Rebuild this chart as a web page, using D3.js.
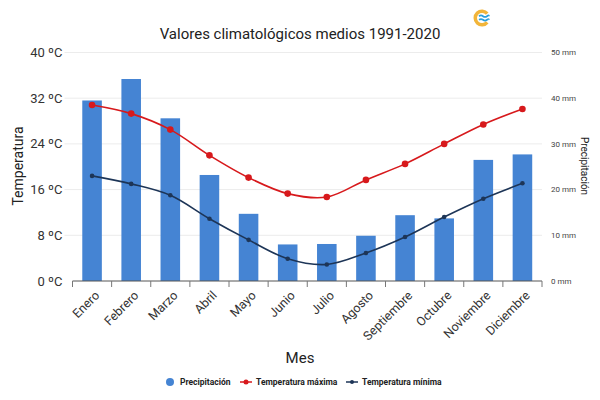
<!DOCTYPE html>
<html>
<head>
<meta charset="utf-8">
<script src="https://cdn.jsdelivr.net/npm/d3@7"></script>
<style>
  body { margin: 0; background: #fff; }
  text { font-family: Roboto, "Noto Sans", sans-serif; }
</style>
</head>
<body>
<div id="chart"></div>
<script>
const WIDTH  = 600
const HEIGHT = 400

const months      = ['Enero', 'Febrero', 'Marzo', 'Abril', 'Mayo', 'Junio', 'Julio', 'Agosto', 'Septiembre', 'Octubre', 'Noviembre', 'Diciembre']
const precip      = [39.5, 44.2, 35.6, 23.2, 14.7, 8.0, 8.1, 9.9, 14.4, 13.7, 26.5, 27.7]
const tempMax     = [30.8, 29.3, 26.5, 22.0, 18.1, 15.3, 14.7, 17.7, 20.5, 24.0, 27.4, 30.1]
const tempMin     = [18.4, 17.0, 15.0, 10.9, 7.2, 3.9, 2.9, 4.9, 7.7, 11.2, 14.4, 17.1]
const tempTicks   = [0, 8, 16, 24, 32, 40]
const precipTicks = [0, 10, 20, 30, 40, 50]

const BAR_COLOR = '#4584d3'
const MAX_COLOR = '#d7191c'
const MIN_COLOR = '#1d3557'

const margin = { top: 52.5, right: 58, bottom: 119, left: 72.5 }
const innerW = WIDTH - margin.left - margin.right
const innerH = HEIGHT - margin.top - margin.bottom

const svg = d3.select('#chart').append('svg')
    .attr('width', WIDTH)
    .attr('height', HEIGHT)

const g = svg.append('g')
    .attr('transform', `translate(${margin.left},${margin.top})`)

const x = d3.scaleBand().domain(months).range([0, innerW]).paddingInner(0.5).paddingOuter(0.25)
const xBand = d3.scaleBand().domain(months).range([0, innerW])
const yT = d3.scaleLinear().domain([0, 40]).range([innerH, 0])
const yP = d3.scaleLinear().domain([0, 50]).range([innerH, 0])

// grid
g.append('g').selectAll('line')
    .data(tempTicks.slice(1))
    .join('line')
    .attr('x1', -8).attr('x2', innerW)
    .attr('y1', d => yT(d)).attr('y2', d => yT(d))
    .attr('stroke', '#ececec')

// left axis labels
g.append('g').selectAll('text')
    .data(tempTicks)
    .join('text')
    .attr('x', -10)
    .attr('y', d => yT(d))
    .attr('dy', '0.35em')
    .attr('text-anchor', 'end')
    .attr('font-size', 13)
    .attr('fill', '#333')
    .text(d => `${d} ºC`)

// right axis labels
g.append('g').selectAll('text')
    .data(precipTicks)
    .join('text')
    .attr('x', innerW + 9)
    .attr('y', d => yP(d))
    .attr('dy', '0.35em')
    .attr('font-size', 8)
    .attr('fill', '#444')
    .text(d => `${d} mm`)

// bars
g.append('g').selectAll('rect')
    .data(months)
    .join('rect')
    .attr('x', d => x(d))
    .attr('width', x.bandwidth())
    .attr('y', (d, i) => yP(precip[i]))
    .attr('height', (d, i) => innerH - yP(precip[i]))
    .attr('fill', BAR_COLOR)

// x axis
const xAxis = g.append('g')
    .attr('transform', `translate(0,${innerH})`)
xAxis.append('line')
    .attr('x1', 0).attr('x2', innerW)
    .attr('stroke', '#555')
xAxis.selectAll('.tick')
    .data(d3.range(months.length + 1))
    .join('line')
    .attr('class', 'tick')
    .attr('x1', i => i * xBand.step()).attr('x2', i => i * xBand.step())
    .attr('y1', 0).attr('y2', 6)
    .attr('stroke', '#777')
xAxis.selectAll('text')
    .data(months)
    .join('text')
    .attr('transform', d => `translate(${xBand(d) + xBand.bandwidth() / 2 + 2},9) rotate(-45)`)
    .attr('text-anchor', 'end')
    .attr('dy', '0.7em')
    .attr('font-size', 12.5)
    .attr('fill', '#333')
    .text(d => d)

// lines
const cx = (d, i) => xBand(months[i]) + xBand.bandwidth() / 2
const drawLine = (values, color, r) => {
    const line = d3.line()
        .x(cx)
        .y(d => yT(d))
        .curve(d3.curveCatmullRom.alpha(0.5))
    g.append('path')
        .datum(values)
        .attr('d', line)
        .attr('fill', 'none')
        .attr('stroke', color)
        .attr('stroke-width', 1.6)
    g.append('g').selectAll('circle')
        .data(values)
        .join('circle')
        .attr('cx', cx)
        .attr('cy', d => yT(d))
        .attr('r', r)
        .attr('fill', color)
}
drawLine(tempMax, MAX_COLOR, 3.3)
drawLine(tempMin, MIN_COLOR, 2.3)

// titles
svg.append('text')
    .attr('x', 300).attr('y', 38.5)
    .attr('text-anchor', 'middle')
    .attr('font-size', 15)
    .attr('fill', '#222')
    .text('Valores climatológicos medios 1991-2020')

svg.append('text')
    .attr('x', 300).attr('y', 363)
    .attr('text-anchor', 'middle')
    .attr('font-size', 15)
    .attr('fill', '#222')
    .text('Mes')

svg.append('text')
    .attr('transform', 'translate(23,166) rotate(-90)')
    .attr('text-anchor', 'middle')
    .attr('font-size', 14)
    .attr('fill', '#222')
    .text('Temperatura')

svg.append('text')
    .attr('transform', 'translate(581,166) rotate(90)')
    .attr('text-anchor', 'middle')
    .attr('font-size', 10)
    .attr('fill', '#222')
    .text('Precipitación')

// logo
const logo = svg.append('g').attr('transform', 'translate(482,18)')
logo.append('path')
    .attr('d', d3.arc().innerRadius(5).outerRadius(8.5).startAngle(Math.PI * 0.72).endAngle(Math.PI * 2.28)())
    .attr('fill', '#f2b53a')
for (const dy of [-1.8, 1.8]) {
    logo.append('path')
        .attr('d', `M-3,${dy} q2,-1.5 4,0 t4,0 t2,0`)
        .attr('fill', 'none')
        .attr('stroke', '#2a9fdc')
        .attr('stroke-width', 1.7)
}

// legend
const legend = svg.append('g').attr('transform', 'translate(0,382)')
legend.append('circle').attr('cx', 170).attr('cy', 0).attr('r', 4).attr('fill', BAR_COLOR)
legend.append('text').attr('x', 180).attr('y', 0).attr('dy', '0.35em')
    .attr('font-size', 8.5).attr('font-weight', 'bold').attr('fill', '#222').text('Precipitación')
const legendLine = (x0, color, r, label) => {
    legend.append('line').attr('x1', x0).attr('x2', x0 + 12).attr('y1', 0).attr('y2', 0)
        .attr('stroke', color).attr('stroke-width', 1.5)
    legend.append('circle').attr('cx', x0 + 6).attr('cy', 0).attr('r', r).attr('fill', color)
    legend.append('text').attr('x', x0 + 16).attr('y', 0).attr('dy', '0.35em')
        .attr('font-size', 8.5).attr('font-weight', 'bold').attr('fill', '#222').text(label)
}
legendLine(240, MAX_COLOR, 2.5, 'Temperatura máxima')
legendLine(346, MIN_COLOR, 2, 'Temperatura mínima')
</script>
</body>
</html>
